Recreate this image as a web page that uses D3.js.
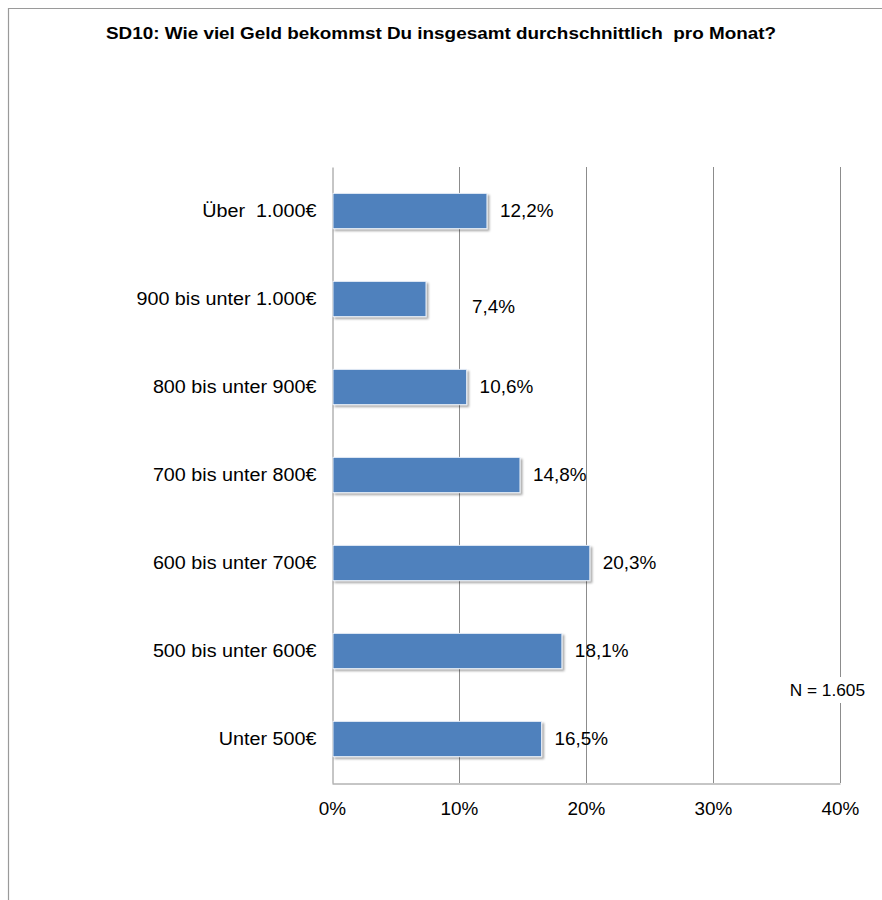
<!DOCTYPE html>
<html>
<head>
<meta charset="utf-8">
<script src="https://cdn.jsdelivr.net/npm/d3@7"></script>
<style>
  body { margin: 0; background: #fff; }
  text { font-family: "Liberation Sans", Arial, sans-serif; fill: #000; white-space: pre; }
</style>
</head>
<body>
<div id="chart"></div>
<script>
// data, top to bottom as in the picture
var categories = ["Über  1.000€", "900 bis unter 1.000€", "800 bis unter 900€", "700 bis unter 800€",
                  "600 bis unter 700€", "500 bis unter 600€", "Unter 500€"];
var values = [12.2, 7.4, 10.6, 14.8, 20.3, 18.1, 16.5];
var ticks = [0, 10, 20, 30, 40];
var title = "SD10: Wie viel Geld bekommst Du insgesamt durchschnittlich  pro Monat?";
var note = "N = 1.605";

var W = 882, H = 900;
var FS = 17.5, SX = 1.08; // the original text is a bit wider than Arial
var svg = d3.select("#chart").append("svg").attr("width", W).attr("height", H);

// frame of the page
svg.append("path")
  .attr("d", "M8.5," + H + "V8.5H" + W)
  .attr("fill", "none").attr("stroke", "#9a9a9a").attr("stroke-width", 1.2);

svg.append("text")
  .attr("x", 441).attr("y", 39)
  .attr("text-anchor", "middle")
  .attr("font-size", 16.5).attr("font-weight", "bold")
  .attr("textLength", 670).attr("lengthAdjust", "spacingAndGlyphs")
  .text(title);

var x = d3.scaleLinear().domain([0, 40]).range([332, 840]);
var y = d3.scaleBand().domain(categories).range([167, 783]).paddingInner(0.6).paddingOuter(0.3);

var defs = svg.append("defs");
var f = defs.append("filter").attr("id", "shadow")
  .attr("x", "-10%").attr("y", "-20%").attr("width", "130%").attr("height", "160%");
f.append("feDropShadow").attr("dx", 2).attr("dy", 2).attr("stdDeviation", 1.2)
  .attr("flood-color", "#000").attr("flood-opacity", 0.35);

// widened text placed at (px, py)
function wide(sel, px, py) {
  sel.attr("x", 0).attr("y", 0)
    .attr("transform", function(d, i) {
      return "translate(" + px(d, i) + "," + py(d, i) + ") scale(" + SX + ",1)";
    });
}

// gridlines
svg.append("g").selectAll("line").data(ticks.slice(1)).enter().append("line")
  .attr("x1", function(d) { return x(d) + 0.5; }).attr("x2", function(d) { return x(d) + 0.5; })
  .attr("y1", 167).attr("y2", 783)
  .attr("stroke", "#8c8c8c").attr("stroke-width", 1);

// bottom axis
var xAxis = d3.axisBottom(x).tickValues(ticks).tickSize(0)
  .tickFormat(function(d) { return d + "%"; });
var gx = svg.append("g").attr("transform", "translate(0,783.5)").call(xAxis);
gx.select(".domain").attr("stroke", "#8c8c8c");
gx.selectAll("text").attr("font-size", FS).attr("font-family", "Liberation Sans, Arial, sans-serif")
  .attr("fill", "#000").attr("dy", "0.35em")
  .call(wide, function() { return 0; }, function() { return 25; });

// left axis
var yAxis = d3.axisLeft(y).tickSize(0);
var gy = svg.append("g").attr("transform", "translate(332.5,0)").call(yAxis);
gy.select(".domain").attr("stroke", "#8c8c8c");
gy.selectAll("text").attr("font-size", 18.3).attr("font-family", "Liberation Sans, Arial, sans-serif")
  .attr("fill", "#000")
  .call(wide, function() { return -16; }, function() { return 0; });

// bars
svg.append("g").selectAll("rect").data(values).enter().append("rect")
  .attr("x", x(0) + 1)
  .attr("y", function(d, i) { return y(categories[i]); })
  .attr("width", function(d) { return x(d) - x(0) - 1; })
  .attr("height", y.bandwidth())
  .attr("fill", "#4f81bd")
  .attr("stroke", "#e4ecf6").attr("stroke-width", 1)
  .attr("filter", "url(#shadow)");

// data labels (the 7,4% label sits a bit off in the original)
svg.append("g").selectAll("text").data(values).enter().append("text")
  .attr("dy", "0.35em")
  .attr("font-size", FS)
  .text(function(d) { return d.toFixed(1).replace(".", ",") + "%"; })
  .call(wide,
    function(d, i) { return x(d) + 13 + (i === 1 ? 33 : 0); },
    function(d, i) { return y(categories[i]) + y.bandwidth() / 2 + (i === 1 ? 8 : 0); });

// N note, with white box breaking the gridline
var nt = svg.append("g");
var nTxt = nt.append("text").attr("dy", "0.35em")
  .attr("text-anchor", "end").attr("font-size", 16).text(note)
  .call(wide, function() { return 865; }, function() { return 690; });
nt.insert("rect", "text").attr("x", 785).attr("y", 677)
  .attr("width", 82).attr("height", 26).attr("fill", "#fff");
</script>
</body>
</html>
